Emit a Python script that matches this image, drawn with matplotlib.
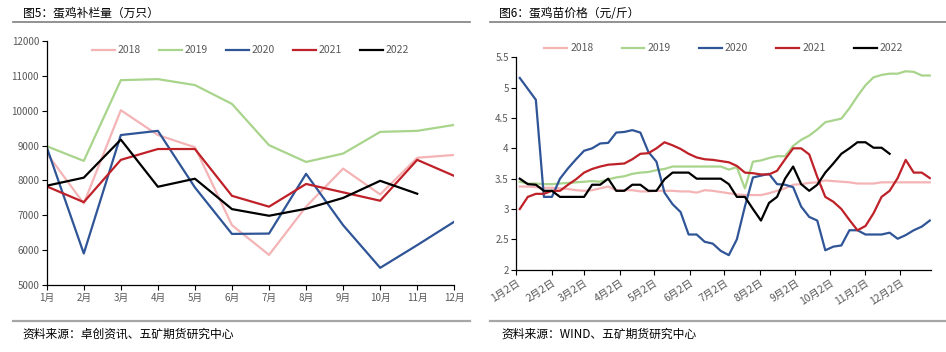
import numpy as np
import pandas as pd
import matplotlib
matplotlib.use('Agg')
import matplotlib.pyplot as plt
from matplotlib.lines import Line2D

plt.rcParams['font.family'] = ['Noto Sans CJK SC', 'DejaVu Sans']

# ---- left chart: monthly restocking (10k birds)
months = ['1月', '2月', '3月', '4月', '5月', '6月', '7月', '8月', '9月', '10月', '11月', '12月']
stock_2018 = [8780, 7340, 10010, 9300, 8950, 6720, 5870, 7250, 8340, 7600, 8650, 8730]
stock_2019 = [8980, 8560, 10870, 10900, 10730, 10190, 9010, 8530, 8770, 9390, 9420, 9590]
stock_2020 = [8950, 5910, 9300, 9420, 7800, 6470, 6480, 8190, 6720, 5500, 6150, 6820]
stock_2021 = [7830, 7380, 8590, 8900, 8900, 7560, 7250, 7900, 7660, 7420, 8590, 8130]
stock_2022 = [7850, 8080, 9170, 7820, 8050, 7180, 6990, 7190, 7500, 7990, 7620]

# ---- right chart: weekly chick price (yuan/jin)
price_2018 = [3.37, 3.37, 3.36, 3.35, 3.35, 3.34, 3.33, 3.31, 3.30, 3.31, 3.34, 3.37, 3.31,
              3.31, 3.31, 3.29, 3.29, 3.30, 3.30, 3.30, 3.29, 3.29, 3.27, 3.31, 3.30, 3.28,
              3.26, 3.24, 3.23, 3.23, 3.23, 3.26, 3.30, 3.34, 3.40, 3.41, 3.43, 3.44, 3.47,
              3.46, 3.45, 3.44, 3.42, 3.42, 3.42, 3.44, 3.44, 3.44, 3.44, 3.44, 3.44, 3.44]
price_2019 = [3.45, 3.42, 3.42, 3.41, 3.41, 3.42, 3.43, 3.44, 3.45, 3.46, 3.45, 3.49, 3.52,
              3.54, 3.58, 3.60, 3.61, 3.64, 3.66, 3.70, 3.70, 3.70, 3.70, 3.70, 3.70, 3.70,
              3.65, 3.69, 3.34, 3.78, 3.80, 3.84, 3.87, 3.87, 4.04, 4.14, 4.21, 4.31, 4.43,
              4.46, 4.49, 4.66, 4.86, 5.04, 5.17, 5.21, 5.23, 5.23, 5.27, 5.26, 5.20, 5.20]
price_2020 = [5.16, 4.98, 4.80, 3.20, 3.20, 3.50, 3.67, 3.82, 3.96, 4.00, 4.08, 4.09, 4.26,
              4.27, 4.30, 4.26, 3.94, 3.78, 3.27, 3.08, 2.95, 2.58, 2.58, 2.46, 2.43, 2.31,
              2.24, 2.50, 3.04, 3.52, 3.55, 3.58, 3.41, 3.40, 3.36, 3.04, 2.87, 2.81, 2.32,
              2.38, 2.40, 2.65, 2.65, 2.58, 2.58, 2.58, 2.61, 2.51, 2.57, 2.65, 2.71, 2.81]
price_2021 = [3.00, 3.20, 3.25, 3.25, 3.30, 3.30, 3.40, 3.49, 3.60, 3.66, 3.70, 3.73, 3.74,
              3.75, 3.82, 3.91, 3.92, 4.00, 4.10, 4.05, 3.99, 3.91, 3.85, 3.82, 3.81, 3.79,
              3.77, 3.71, 3.60, 3.59, 3.57, 3.57, 3.63, 3.82, 4.00, 4.00, 3.90, 3.53, 3.20,
              3.12, 3.00, 2.82, 2.65, 2.72, 2.93, 3.20, 3.30, 3.51, 3.81, 3.60, 3.60, 3.51]
price_2022 = [3.50, 3.41, 3.40, 3.30, 3.30, 3.20, 3.20, 3.20, 3.20, 3.40, 3.40, 3.50, 3.30,
              3.30, 3.40, 3.40, 3.30, 3.30, 3.49, 3.60, 3.60, 3.60, 3.50, 3.50, 3.50, 3.50,
              3.41, 3.20, 3.20, 3.00, 2.81, 3.10, 3.20, 3.50, 3.70, 3.41, 3.30, 3.40, 3.60,
              3.75, 3.91, 4.00, 4.10, 4.10, 4.01, 4.01, 3.91]
weeks = pd.date_range('2022-01-05', periods=len(price_2018), freq='7D')
tick_dates = pd.date_range('2022-01-01', periods=12, freq='MS') + pd.Timedelta(days=1)
tick_labels = [f'{d.month}月2日' for d in tick_dates]

years = ['2018', '2019', '2020', '2021', '2022']
colors = ['#F4B4B6', '#A8D48C', '#2F5597', '#BF2128', '#000000']
tick_grey = '#595959'

fig = plt.figure(figsize=(9.46, 3.52), dpi=100)

# decorative rules and captions
for x0, x1 in [(0.0137, 0.4968), (0.518, 1.0)]:
    fig.add_artist(Line2D([x0, x1], [0.9375, 0.9375], color='#7F7F7F', lw=1.2,
                          transform=fig.transFigure))
    fig.add_artist(Line2D([x0, x1], [0.088, 0.088], color='#A6A6A6', lw=1.6,
                          transform=fig.transFigure))
fig.text(0.024, 0.962, '图5：蛋鸡补栏量（万只）', fontsize=8.5, va='center', ha='left')
fig.text(0.528, 0.962, '图6：蛋鸡苗价格（元/斤）', fontsize=8.5, va='center', ha='left')
fig.text(0.024, 0.05, '资料来源：卓创资讯、五矿期货研究中心', fontsize=8.5, va='center', ha='left')
fig.text(0.530, 0.05, '资料来源：WIND、五矿期货研究中心', fontsize=8.5, va='center', ha='left')


def style_axes(ax):
    for s in ['top', 'right']:
        ax.spines[s].set_visible(False)
    for s in ['left', 'bottom']:
        ax.spines[s].set_linewidth(0.9)
    ax.tick_params(axis='both', direction='out', length=3.5, width=0.8,
                   labelsize=7, labelcolor=tick_grey, pad=2)


# ---- left
ax1 = fig.add_axes([0.0494, 0.1895, 0.4308, 0.6949])
x = np.arange(1, 13)
for yr, vals, c in zip(years, [stock_2018, stock_2019, stock_2020, stock_2021, stock_2022], colors):
    ax1.plot(x[:len(vals)], vals, color=c, lw=1.6, label=yr)
ax1.set_xlim(1, 12)
ax1.set_ylim(5000, 12000)
ax1.set_yticks(np.arange(5000, 12001, 1000))
ax1.set_xticks(x)
ax1.set_xticklabels(months)
style_axes(ax1)
ax1.legend(loc='upper center', bbox_to_anchor=(0.5, 1.02), ncol=5, frameon=False,
           fontsize=7.5, handlelength=2.2, columnspacing=1.7, handletextpad=0.3,
           labelcolor=tick_grey)

# ---- right
ax2 = fig.add_axes([0.5458, 0.2338, 0.4383, 0.6034])
for yr, vals, c in zip(years, [price_2018, price_2019, price_2020, price_2021, price_2022], colors):
    ax2.plot(weeks[:len(vals)], vals, color=c, lw=1.6, label=yr)
ax2.set_xlim(pd.Timestamp('2022-01-02'), pd.Timestamp('2022-12-29'))
ax2.set_ylim(2, 5.5)
ax2.set_yticks(np.arange(2, 5.51, 0.5))
ax2.set_yticklabels(['2', '2.5', '3', '3.5', '4', '4.5', '5', '5.5'])
ax2.set_xticks(tick_dates)
ax2.set_xticklabels(tick_labels, rotation=33, ha='right', rotation_mode='anchor')
style_axes(ax2)
ax2.tick_params(axis='x', labelsize=7.5)
ax2.legend(loc='upper center', bbox_to_anchor=(0.5, 1.11), ncol=5, frameon=False,
           fontsize=7.5, handlelength=2.2, columnspacing=2.7, handletextpad=0.3,
           labelcolor=tick_grey)

fig.savefig('out.png', dpi=100)
